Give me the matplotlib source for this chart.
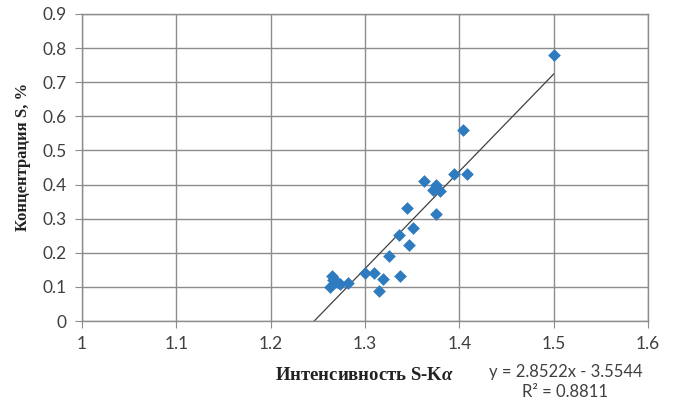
import numpy as np
import matplotlib
matplotlib.use("Agg")
import matplotlib.pyplot as plt

plt.rcParams["mathtext.fontset"] = "custom"
plt.rcParams["mathtext.it"] = "Liberation Serif:italic:bold"

# intensity S-Ka vs sulfur concentration
intensity = [1.500, 1.404, 1.408, 1.394, 1.363, 1.375, 1.372, 1.379,
             1.344, 1.375, 1.351, 1.336, 1.347, 1.325, 1.300, 1.310,
             1.337, 1.319, 1.315, 1.282, 1.265, 1.263, 1.270, 1.273, 1.266]
conc = [0.78, 0.56, 0.43, 0.43, 0.41, 0.40, 0.385, 0.38,
        0.33, 0.313, 0.272, 0.252, 0.222, 0.19, 0.142, 0.142,
        0.132, 0.122, 0.088, 0.112, 0.132, 0.101, 0.115, 0.108, 0.12]
slope, intercept = 2.8522, -3.5544
r2 = 0.8811

GRID = "#8c8c8c"
TICK = "#404040"
BLUE = "#2e7bc0"

fig = plt.figure(figsize=(6.76, 4.04), dpi=100)
ax = fig.add_axes([82 / 676, 1 - 321 / 404, (648 - 82) / 676, (321 - 14) / 404])

ax.scatter(intensity, conc, marker="D", s=42, color=BLUE, zorder=3, linewidths=0)
x0 = -intercept / slope
xl = np.array([x0, max(intensity)])
ax.plot(xl, slope * xl + intercept, color="#404040", lw=0.9, zorder=2)

ax.set_xlim(1, 1.6)
ax.set_ylim(0, 0.9)
ax.set_xticks(np.arange(1.0, 1.61, 0.1))
ax.set_yticks(np.arange(0, 0.91, 0.1))
ax.set_xticklabels(["1", "1.1", "1.2", "1.3", "1.4", "1.5", "1.6"])
ax.set_yticklabels(["0", "0.1", "0.2", "0.3", "0.4", "0.5", "0.6", "0.7", "0.8", "0.9"])
ax.grid(True, color=GRID, lw=1.0)
ax.set_axisbelow(True)
for s in ax.spines.values():
    s.set_color(GRID)
    s.set_linewidth(1.0)
ax.tick_params(direction="out", length=5, color=GRID, labelcolor=TICK,
               labelsize=12.5, pad=6)
for lab in ax.get_xticklabels() + ax.get_yticklabels():
    lab.set_family("Lato")

fig.text(23 / 676, 1 - 157 / 404, "Концентрация S, %", rotation=90,
         family="Liberation Serif", fontweight="bold", fontsize=12,
         color="#222222", ha="center", va="center")
fig.text(365 / 676, 1 - 376 / 404, "Интенсивность S-K$\\mathit{\\alpha}$",
         family="Liberation Serif", fontweight="bold", fontsize=13.5,
         color="#222222", ha="center", va="center")
fig.text(566 / 676, 1 - 372 / 404, f"y = {slope}x - {abs(intercept)}",
         family="Lato", fontsize=12, color=TICK, ha="center", va="center")
fig.text(565 / 676, 1 - 392 / 404, f"R² = {r2}",
         family="Lato", fontsize=12, color=TICK, ha="center", va="center")

fig.savefig("out.png", dpi=100)
